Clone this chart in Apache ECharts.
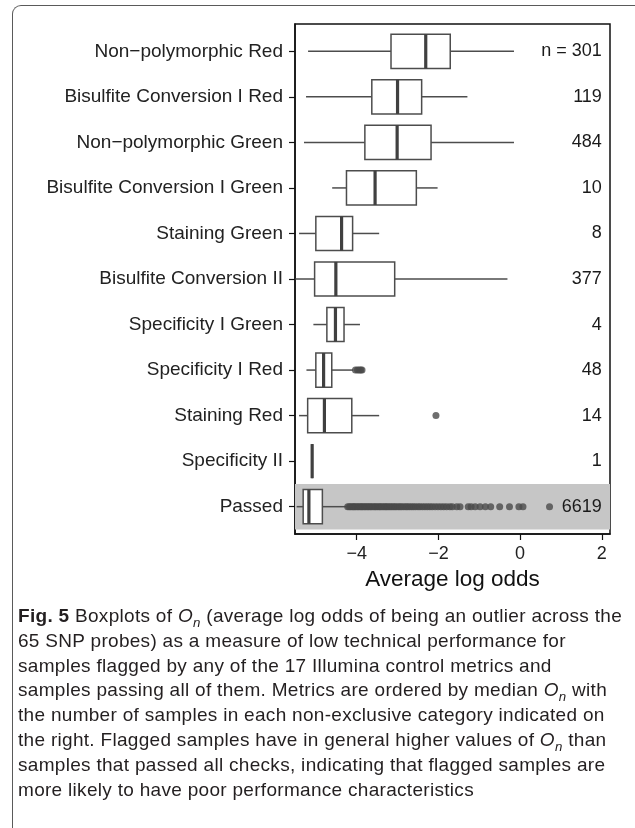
<!DOCTYPE html>
<html>
<head>
<meta charset="utf-8">
<script src="https://cdn.jsdelivr.net/npm/echarts@6/dist/echarts.min.js"></script>
<style>
  html, body { margin: 0; padding: 0; background: #fff; }
  #wrap { position: relative; width: 635px; height: 828px; overflow: hidden; }
  #frame { position: absolute; left: 12px; top: 5px; width: 700px; height: 900px;
           border-left: 1.5px solid #5a5a5a; border-top: 1.5px solid #5a5a5a;
           border-top-left-radius: 9px; box-sizing: border-box; }
  #chart { position: absolute; left: 0; top: 0; width: 635px; height: 828px; }
  #caption { position: absolute; left: 18px; top: 604px; width: 615px;
             font-family: "Liberation Sans", sans-serif; letter-spacing: 0.3px;
             font-size: 19px; line-height: 24.8px; color: #231f20; white-space: nowrap; }
  #caption div { height: 24.8px; }
  #caption b { font-weight: bold; }
  #caption sub { font-size: 70%; vertical-align: baseline; position: relative; top: 0.35em; line-height: 0; }
</style>
</head>
<body>
<div id="wrap">
  <div id="frame"></div>
  <div id="chart"></div>
  <div id="caption">
    <div><b>Fig. 5</b> Boxplots of <i>O<sub>n</sub></i> (average log odds of being an outlier across the</div>
    <div>65 SNP probes) as a measure of low technical performance for</div>
    <div>samples flagged by any of the 17 Illumina control metrics and</div>
    <div>samples passing all of them. Metrics are ordered by median <i>O<sub>n</sub></i> with</div>
    <div>the number of samples in each non-exclusive category indicated on</div>
    <div>the right. Flagged samples have in general higher values of <i>O<sub>n</sub></i> than</div>
    <div>samples that passed all checks, indicating that flagged samples are</div>
    <div>more likely to have poor performance characteristics</div>
  </div>
</div>
<script>
// Control metric categories, top to bottom
const categories = [
  'Non\u2212polymorphic Red',
  'Bisulfite Conversion I Red',
  'Non\u2212polymorphic Green',
  'Bisulfite Conversion I Green',
  'Staining Green',
  'Bisulfite Conversion II',
  'Specificity I Green',
  'Specificity I Red',
  'Staining Red',
  'Specificity II',
  'Passed'
];
// Five-number summaries of the average log odds per category
const whiskerLow  = [-5.19, -5.24, -5.29, -4.60, -5.41, -5.50, -5.06, -5.23, -5.41, -5.09, -5.47];
const q1          = [-3.16, -3.63, -3.80, -4.25, -5.00, -5.03, -4.73, -5.00, -5.20, -5.09, -5.31];
const median      = [-2.31, -3.00, -3.01, -3.55, -4.37, -4.51, -4.52, -4.81, -4.79, -5.09, -5.17];
const q3          = [-1.71, -2.41, -2.18, -2.54, -4.10, -3.07, -4.31, -4.61, -4.12, -5.09, -4.84];
const whiskerHigh = [-0.15, -1.29, -0.15, -2.02, -3.45, -0.31, -3.92, -4.08, -3.45, -5.09, -4.25];
// Sample counts shown on the right
const counts = ['n = 301', '119', '484', '10', '8', '377', '4', '48', '14', '1', '6619'];
// Outlying samples
const outliersSpecIRed = [-4.03, -3.98, -3.94, -3.90, -3.87];
const outliersStainingRed = [-2.06];
const outliersPassed = [
  -4.22, -4.18, -4.15, -4.11, -4.08, -4.05, -4.02, -3.98, -3.95, -3.91,
  -3.88, -3.85, -3.81, -3.78, -3.74, -3.71, -3.67, -3.64, -3.60, -3.56,
  -3.53, -3.49, -3.45, -3.42, -3.38, -3.34, -3.30, -3.27, -3.23, -3.19,
  -3.15, -3.11, -3.07, -3.03, -2.98, -2.94, -2.90, -2.85, -2.80, -2.76,
  -2.71, -2.66, -2.61, -2.56, -2.50, -2.45, -2.39, -2.33, -2.27, -2.21,
  -2.15, -2.08, -2.01, -1.94, -1.87, -1.80, -1.72, -1.66, -1.55, -1.47,
  -1.27, -1.20, -1.10, -0.98, -0.85, -0.72, -0.50, -0.26, -0.03, 0.07, 0.72
];
const xTicks = [-4, -2, 0, 2];

const boxData = categories.map((c, i) => [i, whiskerLow[i], q1[i], median[i], q3[i], whiskerHigh[i]]);
const outlierData = []
  .concat(outliersSpecIRed.map(v => [v, categories.indexOf('Specificity I Red')]))
  .concat(outliersStainingRed.map(v => [v, categories.indexOf('Staining Red')]))
  .concat(outliersPassed.map(v => [v, categories.indexOf('Passed')]));
const countData = categories.map((c, i) => [2, i, counts[i]]);
const passedIdx = categories.indexOf('Passed');

const LINE = '#4d4d4d';
const chart = echarts.init(document.getElementById('chart'), null, { renderer: 'canvas' });
chart.setOption({
  animation: false,
  grid: {
    left: 295, right: 25, top: 24, height: 510,
    outerBoundsMode: 'none', containLabel: false,
    show: true, borderColor: '#111', borderWidth: 1.5, backgroundColor: 'transparent'
  },
  xAxis: {
    type: 'value', min: -5.51, max: 2.2,
    name: 'Average log odds', nameLocation: 'middle', nameGap: 34,
    nameTextStyle: { fontFamily: 'Liberation Sans', fontSize: 22.5, color: '#111' },
    axisLine: { show: true, onZero: false, lineStyle: { color: '#111', width: 1.5 } },
    axisTick: { show: true, length: 6, customValues: xTicks, lineStyle: { color: '#111', width: 1.2 } },
    axisLabel: {
      customValues: xTicks, margin: 11, fontFamily: 'Liberation Sans', fontSize: 18, color: '#222',
      formatter: v => String(v).replace('-', '\u2212')
    },
    splitLine: { show: false }
  },
  yAxis: {
    type: 'value', min: -0.6, max: 10.6, inverse: true,
    axisLine: { show: true, onZero: false, lineStyle: { color: '#111', width: 1.5 } },
    axisTick: { show: true, length: 6, customValues: categories.map((c, i) => i), lineStyle: { color: '#111', width: 1.2 } },
    axisLabel: {
      customValues: categories.map((c, i) => i), margin: 12,
      fontFamily: 'Liberation Sans', fontSize: 19, color: '#222',
      formatter: v => categories[Math.round(v)]
    },
    splitLine: { show: false }
  },
  series: [
    {
      type: 'custom', name: 'boxes', z: 3,
      data: boxData,
      encode: { x: [1, 2, 3, 4, 5], y: 0 },
      markArea: {
        silent: true, z: 1,
        itemStyle: { color: '#c6c6c6' },
        data: [[{ yAxis: passedIdx - 0.5 }, { yAxis: passedIdx + 0.5 }]]
      },
      renderItem: (params, api) => {
        const y = api.value(0);
        const pLo = api.coord([api.value(1), y]);
        const pQ1 = api.coord([api.value(2), y]);
        const pMed = api.coord([api.value(3), y]);
        const pQ3 = api.coord([api.value(4), y]);
        const pHi = api.coord([api.value(5), y]);
        const h = api.size([0, 1])[1] * 0.75;
        const cy = pMed[1];
        return {
          type: 'group',
          children: [
            { type: 'line', shape: { x1: pLo[0], y1: cy, x2: pQ1[0], y2: cy }, style: { stroke: LINE, lineWidth: 1.5 } },
            { type: 'line', shape: { x1: pQ3[0], y1: cy, x2: pHi[0], y2: cy }, style: { stroke: LINE, lineWidth: 1.5 } },
            { type: 'rect', shape: { x: pQ1[0], y: cy - h / 2, width: pQ3[0] - pQ1[0], height: h },
              style: { fill: '#fff', stroke: LINE, lineWidth: 1.5 } },
            { type: 'line', shape: { x1: pMed[0], y1: cy - h / 2, x2: pMed[0], y2: cy + h / 2 },
              style: { stroke: '#404040', lineWidth: 3.2 } }
          ]
        };
      }
    },
    {
      type: 'scatter', name: 'outliers', z: 4,
      symbol: 'circle', symbolSize: 7,
      itemStyle: { color: '#4a4a4a' },
      data: outlierData
    },
    {
      type: 'custom', name: 'counts', z: 5,
      data: countData,
      encode: { x: 0, y: 1 },
      renderItem: (params, api) => {
        const p = api.coord([api.value(0), api.value(1)]);
        return {
          type: 'text',
          style: {
            x: p[0], y: p[1], text: counts[params.dataIndex],
            align: 'right', verticalAlign: 'middle',
            font: '18px "Liberation Sans"', fill: '#1a1a1a'
          }
        };
      }
    }
  ]
});
</script>
</body>
</html>
